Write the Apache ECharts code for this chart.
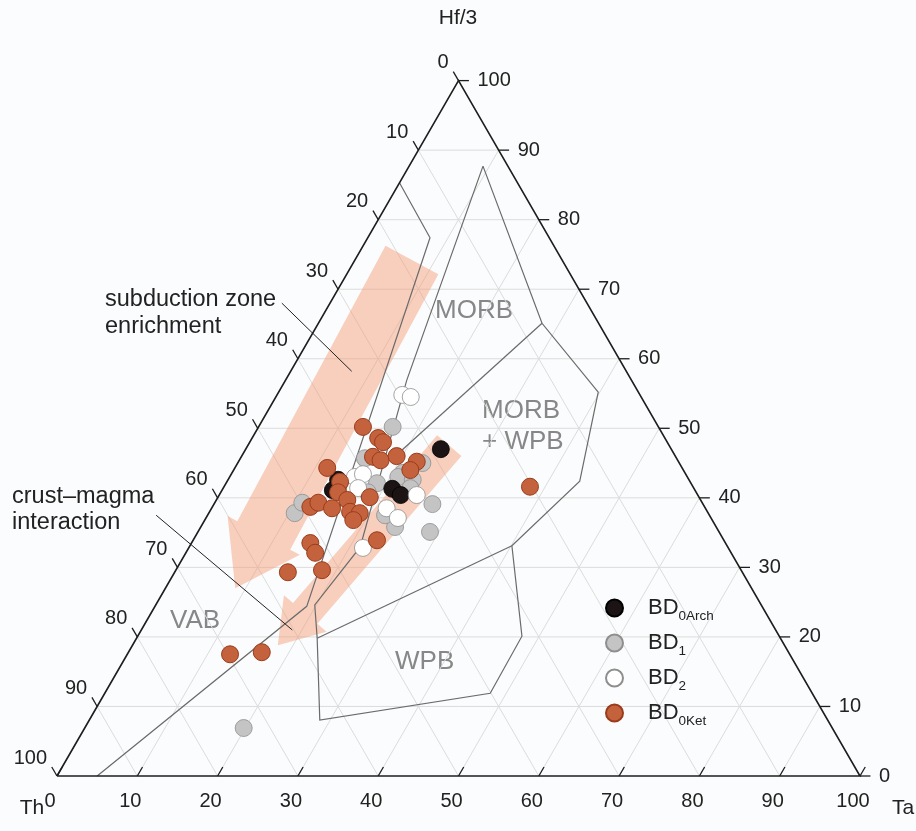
<!DOCTYPE html>
<html><head><meta charset="utf-8">
<script src="https://cdn.jsdelivr.net/npm/echarts@6/dist/echarts.min.js"></script>
<style>html,body{margin:0;padding:0;background:#fbfcfd;}#c{width:916px;height:831px;}</style>
</head><body><div id="c"></div>
<script>
// ---- data: [Ta, Hf/3] in percent (Th = 100 - Ta - Hf/3) ----
const ticks = [0,10,20,30,40,50,60,70,80,90,100];
const bd0Arch = [[24.3,47.0],[21.1,41.3],[22.6,40.4],[13.7,42.6],[13.8,41.1]];
const bd1 = [[16.7,50.2],[15.5,45.7],[21.3,43.6],[21.0,43.0],[23.0,42.6],[18.8,42.1],[27.2,39.1],[28.9,35.1],[10.7,37.8],[10.9,39.3],[24.2,35.8],[22.1,37.5],[23.0,45.0],[19.8,6.9],[18.3,40.8],[23.3,41.4]];
const bd2 = [[15.6,54.8],[16.8,54.5],[15.6,43.0],[16.4,43.4],[16.8,41.4],[21.8,38.5],[23.9,37.1],[24.6,40.4],[21.7,32.8]];
const bd0Ket = [[13.0,50.2],[15.7,48.6],[16.6,48.0],[16.4,45.9],[17.6,45.4],[19.3,46.0],[22.2,45.2],[22.0,44.0],[11.5,44.3],[14.1,42.3],[14.6,40.8],[16.3,39.7],[18.9,40.1],[12.2,38.7],[12.9,39.3],[15.0,38.5],[17.5,38.0],[18.8,37.8],[18.5,36.8],[22.9,33.9],[14.8,33.5],[16.1,32.1],[14.1,29.3],[18.2,29.6],[38.1,41.6],[12.8,17.5],[16.6,17.8]];
// field boundaries, [Ta, Hf/3]
const fieldLines = [
  [[0,85.3],[7.75,77.4],[18.9,24.4],[5.0,0]],
  [[9.2,87.7],[15.1,56.9],[21.3,32.9],[19.8,24.6],[22.5,19.8],[28.7,8.05],[48.0,11.9],[47.85,20.1],[40.1,33.1],[43.9,42.4],[39.8,55.2],[27.85,65.1],[9.2,87.7]],
  [[27.85,65.1],[19.4,46.6]],
  [[40.1,33.1],[22.5,19.8]]
];
// trend arrows: tail -> tip, [Ta, Hf/3]
const arrowPaths = [
  [[7.1,74.2],[8.7,27.0]],
  [[25.1,47.5],[18.1,18.8]]
];
// leader lines of annotations, [Ta, Hf/3]
const leaderLines = [
  [[-6.0,68.0],[7.6,58.2]],
  [[-6.4,37.5],[18.8,21.0]]
];

const SQ = Math.sqrt(3) / 2;
const tc = (ta, hf) => [ta + hf / 2, hf * SQ];

const gridSegs = [];
for (const v of ticks) {
  if (v === 0 || v === 100) continue;
  gridSegs.push([[0, v], [100 - v, v]]);
  gridSegs.push([[v, 0], [v, 100 - v]]);
  gridSegs.push([[100 - v, 0], [0, 100 - v]]);
}
const frame = [[[0,0],[100,0],[0,100],[0,0]]];
const tickSegs = [];
const TL = 1.3;
for (const v of ticks) {
  tickSegs.push([[v, 0], [v, TL]]);
  tickSegs.push([[100 - v, v], [100 - v + TL, v]]);
  tickSegs.push([[0, 100 - v], [-TL, 100 - v + TL]]);
}
const labelItems = [];
for (const v of ticks) {
  labelItems.push({p: [0, 100 - v], t: String(v), dx: -10, dy: -18, align: 'right'});
  labelItems.push({p: [100 - v, v], t: String(v), dx: 19, dy: 0, align: 'left'});
  labelItems.push({p: [v, 0], t: String(v), dx: -7, dy: 25, align: 'center'});
}

function polySeries(list, style, z) {
  return {
    type: 'custom', z: z, silent: true, animation: false,
    data: list.map((_, i) => [i, 0]),
    renderItem: function (params, api) {
      const pts = list[params.dataIndex].map(p => api.coord(tc(p[0], p[1])));
      return {type: 'polyline', shape: {points: pts}, style: Object.assign({fill: null}, style)};
    }
  };
}
const arrowW = [{shaft: 30, head: 41, len: 60}, {shaft: 16, head: 28, len: 42}];

const TXT = '#222222';
const FONT = '"Liberation Sans", Arial, sans-serif';
const FIELD = '#878787';

const chart = echarts.init(document.getElementById('c'), null, {renderer: 'canvas'});
chart.setOption({
  backgroundColor: '#fbfcfd',
  animation: false,
  grid: {left: 57, right: 56, top: 80.6, bottom: 55},
  xAxis: {type: 'value', min: 0, max: 100, show: false},
  yAxis: {type: 'value', min: 0, max: 100 * SQ, show: false},
  legend: {
    orient: 'vertical', left: 600, top: 592, itemWidth: 17, itemHeight: 17, itemGap: 9,
    icon: 'circle',
    data: ['BD0Arch', 'BD1', 'BD2', 'BD0Ket'],
    formatter: function (n) { return '{a|BD}{b|' + n.slice(2) + '}'; },
    textStyle: {
      rich: {
        a: {fontSize: 22, fontFamily: FONT, color: TXT, lineHeight: 30, verticalAlign: 'middle', padding: [0, 0, 0, 20]},
        b: {fontSize: 13.5, fontFamily: FONT, color: TXT, lineHeight: 14, verticalAlign: 'bottom'}
      }
    }
  },
  graphic: [
    {type: 'text', x: 458, y: 18, style: {text: 'Hf/3', font: '21px ' + FONT, fill: TXT, align: 'center', verticalAlign: 'middle'}},
    {type: 'text', x: 32, y: 808, style: {text: 'Th', font: '21px ' + FONT, fill: TXT, align: 'center', verticalAlign: 'middle'}},
    {type: 'text', x: 903, y: 808, style: {text: 'Ta', font: '21px ' + FONT, fill: TXT, align: 'center', verticalAlign: 'middle'}},
    {type: 'text', x: 105, y: 300, style: {text: 'subduction zone', font: '23.5px ' + FONT, fill: TXT, align: 'left', verticalAlign: 'middle'}},
    {type: 'text', x: 105, y: 327, style: {text: 'enrichment', font: '23.5px ' + FONT, fill: TXT, align: 'left', verticalAlign: 'middle'}},
    {type: 'text', x: 12, y: 497, style: {text: 'crust\u2013magma', font: '23.5px ' + FONT, fill: TXT, align: 'left', verticalAlign: 'middle'}},
    {type: 'text', x: 12, y: 523, style: {text: 'interaction', font: '23.5px ' + FONT, fill: TXT, align: 'left', verticalAlign: 'middle'}},
    {type: 'text', x: 435, y: 311, style: {text: 'MORB', font: '26px ' + FONT, fill: FIELD, align: 'left', verticalAlign: 'middle'}},
    {type: 'text', x: 482, y: 411, style: {text: 'MORB', font: '26px ' + FONT, fill: FIELD, align: 'left', verticalAlign: 'middle'}},
    {type: 'text', x: 482, y: 442, style: {text: '+ WPB', font: '26px ' + FONT, fill: FIELD, align: 'left', verticalAlign: 'middle'}},
    {type: 'text', x: 170, y: 621, style: {text: 'VAB', font: '26px ' + FONT, fill: FIELD, align: 'left', verticalAlign: 'middle'}},
    {type: 'text', x: 395, y: 662, style: {text: 'WPB', font: '26px ' + FONT, fill: FIELD, align: 'left', verticalAlign: 'middle'}}
  ],
  series: [
    polySeries(gridSegs, {stroke: '#dcdcdc', lineWidth: 1}, 1),
    {
      type: 'custom', z: 2, silent: true,
      data: arrowPaths.map((_, i) => [i, 0]),
      renderItem: function (params, api) {
        const a = arrowPaths[params.dataIndex], w = arrowW[params.dataIndex];
        const p0 = api.coord(tc(a[0][0], a[0][1])), p1 = api.coord(tc(a[1][0], a[1][1]));
        const dx = p1[0] - p0[0], dy = p1[1] - p0[1], L = Math.hypot(dx, dy);
        const ux = dx / L, uy = dy / L, nx = -uy, ny = ux;
        const hb = [p1[0] - ux * w.len, p1[1] - uy * w.len];
        const pts = [
          [p0[0] + nx * w.shaft, p0[1] + ny * w.shaft],
          [hb[0] + nx * w.shaft, hb[1] + ny * w.shaft],
          [hb[0] + nx * w.head, hb[1] + ny * w.head],
          p1,
          [hb[0] - nx * w.head, hb[1] - ny * w.head],
          [hb[0] - nx * w.shaft, hb[1] - ny * w.shaft],
          [p0[0] - nx * w.shaft, p0[1] - ny * w.shaft]
        ];
        return {type: 'polygon', shape: {points: pts}, style: {fill: 'rgba(245,150,110,0.45)'}};
      }
    },
    polySeries(fieldLines, {stroke: '#6b6b6b', lineWidth: 1.2}, 3),
    polySeries(leaderLines, {stroke: '#222', lineWidth: 1}, 3),
    polySeries(frame, {stroke: '#1e1e1e', lineWidth: 1.6}, 4),
    polySeries(tickSegs, {stroke: '#1e1e1e', lineWidth: 1.3}, 4),
    {
      type: 'custom', z: 4, silent: true,
      data: labelItems.map((_, i) => [i, 0]),
      renderItem: function (params, api) {
        const it = labelItems[params.dataIndex];
        const c = api.coord(tc(it.p[0], it.p[1]));
        return {type: 'text', x: c[0] + it.dx, y: c[1] + it.dy,
          style: {text: it.t, fill: TXT, font: '20px ' + FONT, align: it.align, verticalAlign: 'middle'}};
      }
    },
    {name: 'BD1', type: 'scatter', z: 5, symbolSize: 17, data: bd1.map(p => tc(p[0], p[1])),
      itemStyle: {color: '#c4c4c4', borderColor: '#8e8e8e', borderWidth: 0.8, opacity: 1}},
    {name: 'BD0Arch', type: 'scatter', z: 5, symbolSize: 17, data: bd0Arch.map(p => tc(p[0], p[1])),
      itemStyle: {color: '#1c1414', borderColor: '#000000', borderWidth: 0.8, opacity: 1}},
    {name: 'BD2', type: 'scatter', z: 5, symbolSize: 17, data: bd2.map(p => tc(p[0], p[1])),
      itemStyle: {color: '#ffffff', borderColor: '#8e8e8e', borderWidth: 0.8, opacity: 1}},
    {name: 'BD0Ket', type: 'scatter', z: 5, symbolSize: 17, data: bd0Ket.map(p => tc(p[0], p[1])),
      itemStyle: {color: '#c3623c', borderColor: '#9a3c1c', borderWidth: 1, opacity: 1}}
  ]
});
</script></body></html>
